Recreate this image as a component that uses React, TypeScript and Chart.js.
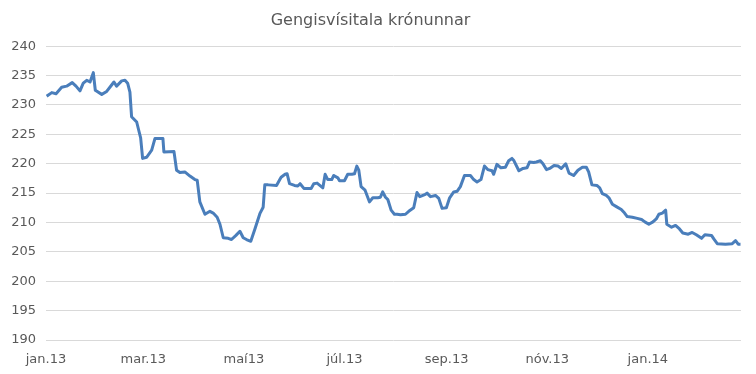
import React, { useEffect, useRef } from "react";
import { Chart, registerables } from "chart.js";

Chart.register(...registerables);

const chartTitle = "Gengisvísitala krónunnar";

// day offsets from 1 Jan 2013
const tickDays = [0, 59, 120, 181, 243, 304, 365];
const tickLabels = ["jan.13", "mar.13", "maí13", "júl.13", "sep.13", "nóv.13", "jan.14"];

const days = [
  0.4, 3.5, 6.1, 9.5, 12.5, 15.9, 18.2, 20.6, 22.6, 24.7, 26.7, 28.7, 29.9, 33.8, 36.8, 39.8, 41.2, 42.8, 45.9, 47.9,
  49.5, 50.9, 51.9, 55.0, 56.5, 57.4, 58.6, 61.0, 64.1, 66.1, 70.1, 70.9, 71.5, 77.6, 79.2, 81.2, 84.2, 87.3, 90.3, 91.7,
  93.3, 96.4, 99.4, 101.4, 103.8, 105.5, 107.5, 110.5, 112.5, 115.2, 117.6, 119.6, 121.6, 124.2, 126.7, 129.7, 131.7, 132.7, 134.7, 139.8,
  141.8, 142.6, 145.0, 146.2, 147.7, 150.7, 152.7, 154.1, 156.4, 158.8, 160.8, 162.4, 164.4, 167.9, 169.3, 170.9, 173.3, 174.5, 177.0, 178.0,
  181.0, 183.0, 185.5, 187.1, 188.5, 189.7, 191.1, 193.5, 196.2, 198.2, 201.2, 202.8, 204.2, 205.9, 207.3, 209.3, 211.3, 212.9, 215.0, 218.0,
  220.0, 223.0, 225.0, 226.7, 230.1, 231.1, 233.2, 236.2, 238.2, 240.2, 242.8, 244.8, 247.3, 249.3, 251.3, 253.8, 257.4, 259.4, 261.4, 263.8,
  265.9, 267.9, 270.5, 271.5, 273.5, 275.9, 278.6, 280.6, 282.6, 283.6, 286.8, 289.3, 291.7, 293.3, 295.8, 297.4, 299.8, 301.4, 303.5, 305.5,
  308.1, 310.5, 312.5, 315.2, 317.2, 320.0, 322.6, 325.3, 327.7, 329.1, 331.1, 334.1, 335.8, 337.4, 339.8, 341.4, 343.5, 345.9, 348.9, 350.9,
  352.5, 355.6, 358.6, 361.2, 363.2, 365.6, 368.1, 370.1, 371.7, 373.8, 375.8, 376.5, 379.4, 381.8, 384.2, 386.2, 389.5, 391.9, 394.4, 397.6,
  399.6, 403.6, 405.0, 407.1, 412.1, 416.2, 418.2, 419.8, 421.2,
];

const indexValues = [
  231.5, 232.1, 231.9, 233.0, 233.2, 233.8, 233.2, 232.4, 233.7, 234.2, 233.9, 235.5, 232.5, 231.8, 232.3, 233.4, 233.9, 233.2, 234.1, 234.2,
  233.7, 232.2, 228.0, 227.1, 225.4, 224.4, 220.9, 221.1, 222.3, 224.3, 224.3, 224.3, 222.0, 222.1, 218.9, 218.5, 218.6, 217.9, 217.3, 217.2,
  213.5, 211.4, 211.9, 211.6, 210.9, 209.7, 207.4, 207.3, 207.1, 207.8, 208.5, 207.4, 207.1, 206.8, 208.9, 211.5, 212.6, 216.4, 216.4, 216.3,
  217.3, 217.7, 218.2, 218.3, 216.6, 216.3, 216.2, 216.6, 215.8, 215.8, 215.8, 216.6, 216.7, 215.9, 218.2, 217.3, 217.3, 218.0, 217.6, 217.1,
  217.1, 218.2, 218.2, 218.3, 219.6, 218.9, 216.1, 215.5, 213.5, 214.2, 214.2, 214.3, 215.2, 214.3, 213.9, 212.1, 211.4, 211.4, 211.3, 211.4,
  211.9, 212.5, 215.1, 214.4, 214.8, 215.0, 214.4, 214.6, 214.1, 212.4, 212.5, 214.2, 215.2, 215.3, 216.1, 218.0, 218.0, 217.3, 216.9, 217.3,
  219.6, 219.0, 218.8, 218.2, 219.9, 219.3, 219.4, 220.5, 220.9, 220.6, 218.8, 219.2, 219.3, 220.3, 220.2, 220.3, 220.5, 220.0, 219.0, 219.2,
  219.7, 219.6, 219.2, 220.0, 218.4, 218.0, 218.9, 219.4, 219.4, 218.6, 216.4, 216.3, 215.9, 214.9, 214.6, 214.2, 213.1, 212.7, 212.2, 211.6,
  211.0, 210.9, 210.7, 210.5, 210.1, 209.7, 210.1, 210.6, 211.4, 211.6, 212.1, 209.7, 209.2, 209.5, 208.9, 208.2, 208.0, 208.3, 207.9, 207.3,
  207.9, 207.8, 207.2, 206.4, 206.3, 206.4, 206.9, 206.3, 206.3,
];

const textColor = "#595959";
const fontFamily = "'DejaVu Sans', Verdana, sans-serif";

export default function App() {
  const canvasRef = useRef<HTMLCanvasElement | null>(null);

  useEffect(() => {
    document.body.style.margin = "0";
    const canvas = canvasRef.current;
    if (!canvas) return;
    const points = days.map((d, i) => ({ x: d, y: indexValues[i] }));
    const chart = new Chart(canvas, {
      type: "line",
      data: {
        datasets: [
          {
            data: points,
            borderColor: "#4a7ebb",
            borderWidth: 3,
            borderJoinStyle: "round",
            pointRadius: 0,
            tension: 0,
            fill: false,
          },
        ],
      },
      options: {
        animation: false,
        responsive: false,
        maintainAspectRatio: false,
        layout: { padding: { left: 0, right: 15, top: 0, bottom: 0 } },
        plugins: {
          legend: { display: false },
          tooltip: { enabled: false },
          title: {
            display: true,
            text: chartTitle,
            color: textColor,
            font: { family: fontFamily, size: 16, weight: "normal", lineHeight: 1.2 },
            padding: { top: 11, bottom: 16 },
          },
        },
        scales: {
          x: {
            type: "linear",
            min: 0,
            max: 421.5,
            grid: { display: false },
            border: { display: false },
            afterBuildTicks: (scale: any) => {
              scale.ticks = tickDays.map((v) => ({ value: v }));
            },
            afterFit: (scale: any) => {
              scale.height = 34;
            },
            ticks: {
              autoSkip: false,
              maxRotation: 0,
              padding: 4,
              color: textColor,
              font: { family: fontFamily, size: 13 },
              callback: (value: any) => {
                const i = tickDays.indexOf(Number(value));
                return i >= 0 ? tickLabels[i] : "";
              },
            },
          },
          y: {
            min: 190,
            max: 240,
            grid: { color: "#d9d9d9", drawTicks: false, lineWidth: 1 },
            border: { display: false },
            afterFit: (scale: any) => {
              scale.width = 46;
            },
            ticks: {
              stepSize: 5,
              padding: 10,
              color: textColor,
              font: { family: fontFamily, size: 13 },
            },
          },
        },
      },
    });
    return () => chart.destroy();
  }, []);

  return (
    <div style={{ position: "fixed", left: 0, top: 0, width: 756, height: 374, background: "#fff" }}>
      <canvas ref={canvasRef} width={756} height={374} style={{ width: 756, height: 374 }} />
    </div>
  );
}
